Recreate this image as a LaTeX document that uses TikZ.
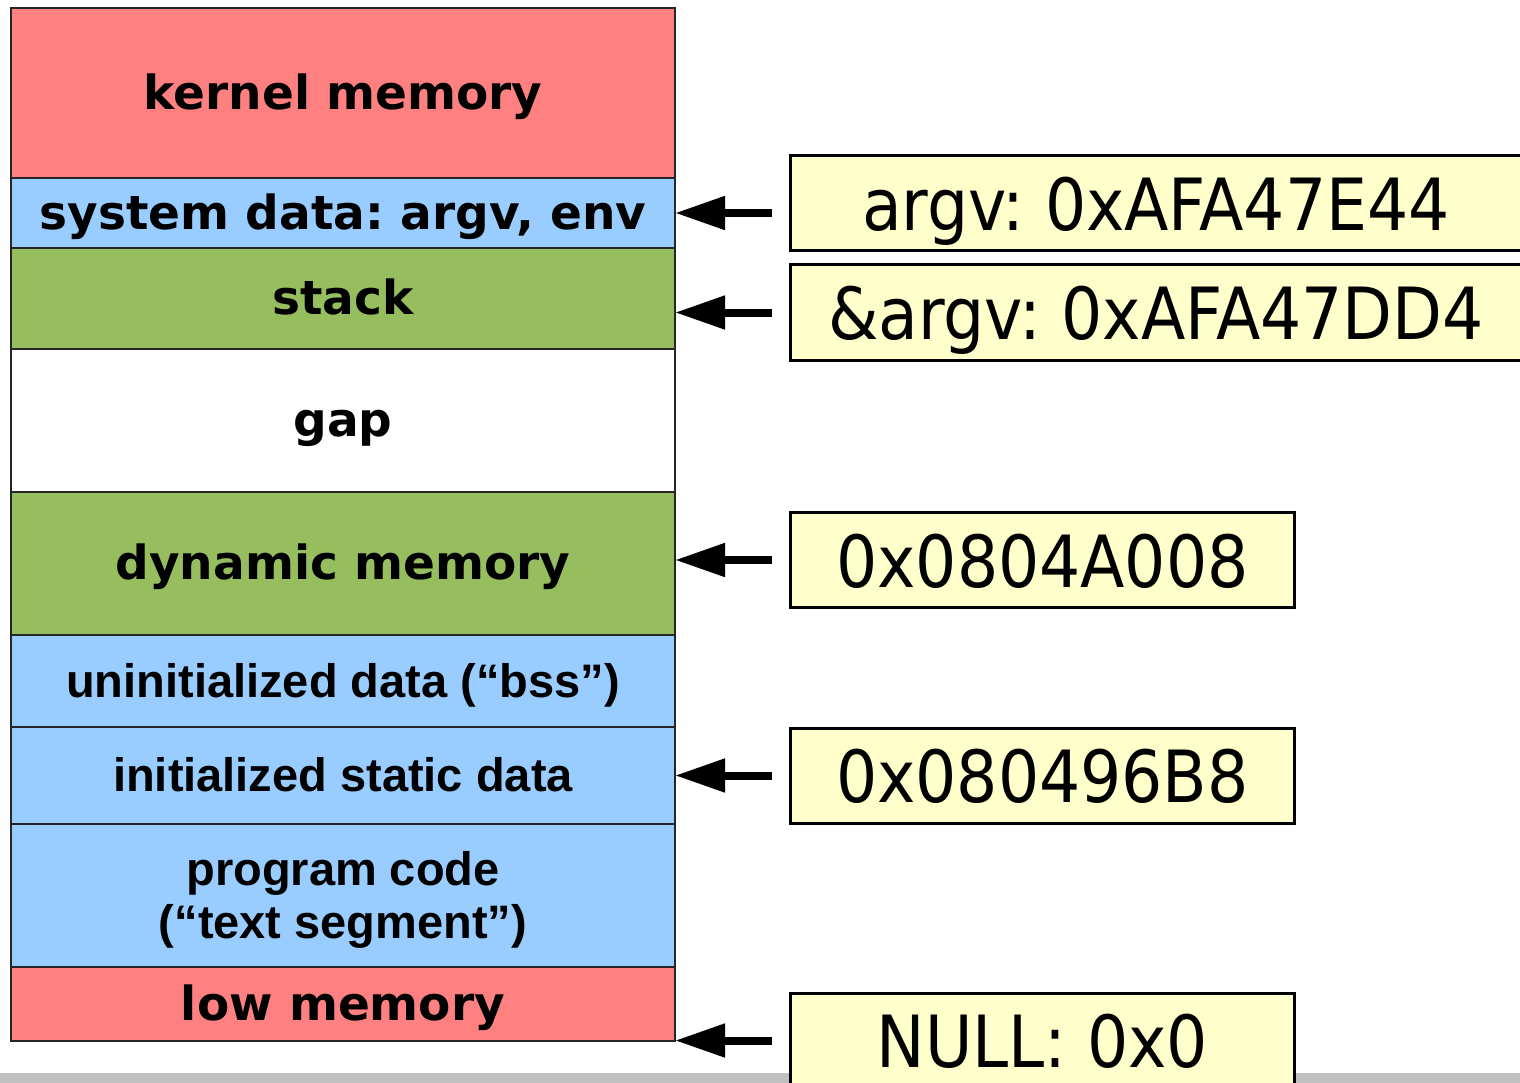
\documentclass[tikz,border=0pt]{standalone}
\usepackage{fontspec}
\usetikzlibrary{arrows.meta, positioning}
\newfontfamily\segfont{DejaVu Sans}
\newfontfamily\arialfont{Liberation Sans}
\newfontfamily\addrfont{DejaVu Sans Condensed}
\frenchspacing
\definecolor{segred}{HTML}{FF8080}
\definecolor{segblue}{HTML}{99CCFF}
\definecolor{seggreen}{RGB}{150,189,94}
\definecolor{addryellow}{HTML}{FFFFCC}
\definecolor{barcol}{HTML}{C0C0C0}
\tikzset{
	seg/.style={draw=black!85, line width=1.2pt, minimum width=664pt, inner sep=0pt, outer sep=0pt,
		align=center, text height=43.6pt, text depth=11.1pt,
		font={\segfont\bfseries\fontsize{47}{53}\selectfont}},
	narrow/.style={font={\arialfont\bfseries\fontsize{47}{53}\selectfont}},
	kern/.style={seg, fill=segred},
	sysseg/.style={seg, fill=segblue},
	growseg/.style={seg, fill=seggreen},
	hole/.style={seg, fill=white},
	addr/.style={draw, line width=3pt, fill=addryellow, minimum height=95pt, inner sep=0pt,
		text height=64pt, text depth=10pt, font={\addrfont\fontsize{72}{72}\selectfont}},
	ptr/.style={line width=8pt, -{Triangle[length=50pt, width=32pt]}}
}

\begin{document}
\begin{tikzpicture}[x=1pt, y=-1pt]
	\useasboundingbox (0,0) rectangle (1520,1083);
	\fill[barcol] (0,1073) rectangle (1520,1083);

	% ==========================================
	% address space, top to bottom
	% ==========================================
	\node[kern, minimum height=170pt, anchor=north west] (kernel) at (11,8) {kernel memory};
	\node[sysseg, minimum height=70pt, below=0pt of kernel] (sysdata) {system data: argv, env};
	\node[growseg, minimum height=101pt, below=0pt of sysdata] (stack) {stack};
	\node[hole, minimum height=143pt, below=0pt of stack] (gap) {gap};
	\node[growseg, minimum height=143pt, below=0pt of gap] (heap) {dynamic memory};
	\node[sysseg, narrow, minimum height=92pt, below=0pt of heap] (bss) {uninitialized data (“bss”)};
	\node[sysseg, narrow, minimum height=97pt, below=0pt of bss] (data) {initialized static data};
	\node[sysseg, narrow, minimum height=143pt, text height=96.6pt, below=0pt of data] (text) {program code\\(“text segment”)};
	\node[kern, minimum height=74pt, below=0pt of text] (lowmem) {low memory};

	% ==========================================
	% addresses printed by the program
	% ==========================================
	\node[addr, minimum width=731pt] (argvbox) at (1156,203.5) {argv: 0xAFA47E44};
	\node[addr, minimum width=731pt] (stackbox) at (1156,312.5) {\&argv: 0xAFA47DD4};
	\node[addr, minimum width=504pt] (heapbox) at (1042.5,560) {0x0804A008};
	\node[addr, minimum width=504pt] (databox) at (1042.5,775.5) {0x080496B8};
	\node[addr, minimum width=504pt] (nullbox) at (1042.5,1040.5) {NULL: 0x0};

	% pointers into the segments
	\draw[ptr] ([xshift=-17pt]argvbox.west |- sysdata.east) -- (sysdata.east);
	\foreach \b/\s in {stackbox/stack, heapbox/heap, databox/data, nullbox/lowmem}
		\draw[ptr] ([xshift=-17pt]\b.west) -- (\b.west -| \s.east);

\end{tikzpicture}
\end{document}
